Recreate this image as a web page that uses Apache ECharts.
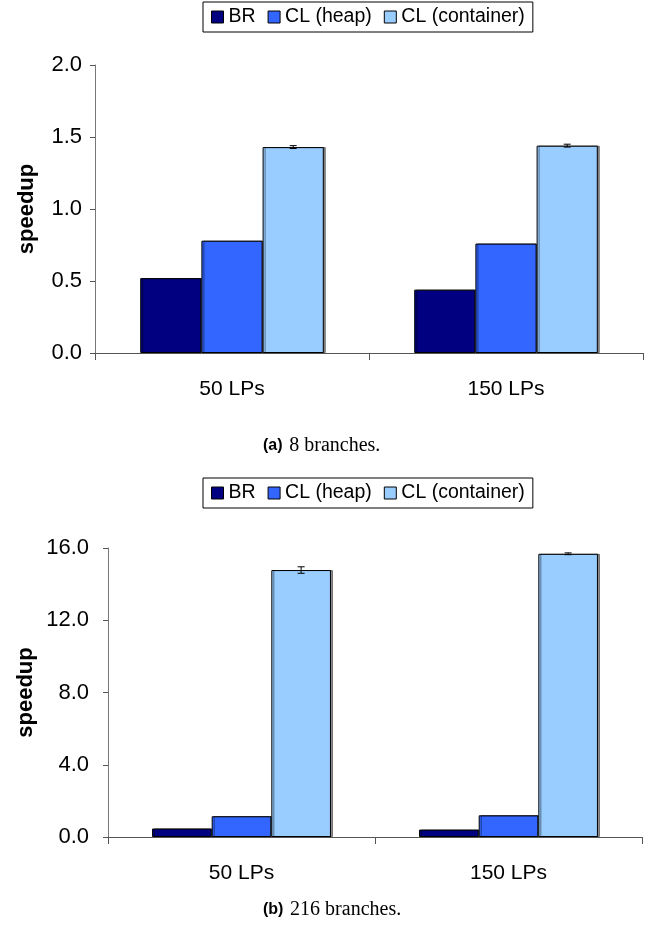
<!DOCTYPE html>
<html>
<head>
<meta charset="utf-8">
<script src="https://cdn.jsdelivr.net/npm/echarts@6/dist/echarts.min.js"></script>
<style>
html,body{margin:0;padding:0;background:#fff;}
#c{width:649px;height:940px;}
</style>
</head>
<body>
<div id="c"></div>
<script>
var categories = ['50 LPs', '150 LPs'];
var seriesNames = ['BR', 'CL (heap)', 'CL (container)'];
var colors = ['#000080', '#3366FF', '#99CCFF'];

// (a) 8 branches
var a_BR = [0.52, 0.44];
var a_heap = [0.78, 0.76];
var a_container = [1.43, 1.44];
var a_containerErr = [0.01, 0.01];
var a_ticks = { min: 0, max: 2, interval: 0.5 };

// (b) 216 branches
var b_BR = [0.47, 0.41];
var b_heap = [1.15, 1.20];
var b_container = [14.78, 15.68];
var b_containerErr = [0.18, 0.05];
var b_ticks = { min: 0, max: 16, interval: 4 };

var captionA = { tag: '(a)', text: '8 branches.' };
var captionB = { tag: '(b)', text: '216 branches.' };

var FONT = '"Liberation Sans", Arial, sans-serif';
var SERIF = '"Liberation Serif", "Times New Roman", serif';

function barSeries(name, data, color, idx) {
  return {
    name: name, type: 'bar', data: data,
    xAxisIndex: idx, yAxisIndex: idx,
    barGap: '0%', barCategoryGap: '33%',
    itemStyle: {
      color: color, borderColor: '#000', borderWidth: 1,
      shadowColor: 'rgba(0,0,0,0.45)', shadowOffsetX: 2, shadowOffsetY: 0, shadowBlur: 0
    },
    emphasis: { disabled: true },
    animation: false
  };
}

function errSeries(values, errs, idx, barIndex) {
  var data = values.map(function (v, i) { return [i, v, errs[i]]; });
  return {
    type: 'custom', xAxisIndex: idx, yAxisIndex: idx,
    data: data, silent: true, animation: false, z: 10,
    renderItem: function (params, api) {
      var ci = api.value(0), v = api.value(1), e = api.value(2);
      var center = api.coord([ci, v]);
      var band = api.size([1, 0])[0];
      var groupW = band * 0.67;
      var barW = groupW / 3;
      var x = center[0] - groupW / 2 + barW * (barIndex + 0.5);
      var hi = api.coord([ci, v + e])[1];
      var lo = api.coord([ci, v - e])[1];
      var cap = 3.5;
      var st = { stroke: '#000', lineWidth: 1, fill: null };
      return {
        type: 'group',
        children: [
          { type: 'line', shape: { x1: x, y1: hi, x2: x, y2: lo }, style: st },
          { type: 'line', shape: { x1: x - cap, y1: hi, x2: x + cap, y2: hi }, style: st },
          { type: 'line', shape: { x1: x - cap, y1: lo, x2: x + cap, y2: lo }, style: st }
        ]
      };
    }
  };
}

function yAxis(idx, t, nameGap, margin, fs) {
  return {
    type: 'value', gridIndex: idx, min: t.min, max: t.max, interval: t.interval,
    name: 'speedup', nameLocation: 'middle', nameRotate: 90, nameGap: nameGap,
    nameMoveOverlap: false,
    nameTextStyle: { fontFamily: FONT, fontWeight: 'bold', fontSize: 22, color: '#000' },
    axisLine: { show: true, lineStyle: { color: '#777', width: 1 } },
    axisTick: { show: true, length: 5, lineStyle: { color: '#555' } },
    axisLabel: {
      fontFamily: FONT, fontSize: fs, color: '#000', margin: margin,
      formatter: function (v) { return v.toFixed(1); }
    },
    splitLine: { show: false }
  };
}

function xAxis(idx, margin) {
  return {
    type: 'category', gridIndex: idx, data: categories,
    axisLine: { lineStyle: { color: '#555', width: 1 } },
    axisTick: { show: true, length: 7, lineStyle: { color: '#555' } },
    axisLabel: { fontFamily: FONT, fontSize: 21, color: '#000', margin: margin }
  };
}

function legend(top) {
  return {
    top: top, left: 203,
    data: seriesNames,
    icon: 'rect',
    itemWidth: 12, itemHeight: 12, itemGap: 12,
    borderColor: '#000', borderWidth: 1, padding: [5, 8],
    textStyle: { fontFamily: FONT, fontSize: 19.5, color: '#000' },
    selectedMode: false,
    itemStyle: { borderColor: '#000', borderWidth: 1 }
  };
}

function caption(c, y) {
  return {
    type: 'text', left: 263, top: y,
    style: {
      text: '{t|' + c.tag + '}  {s|' + c.text + '}',
      rich: {
        t: { fontFamily: FONT, fontWeight: 'bold', fontSize: 16, fill: '#000' },
        s: { fontFamily: SERIF, fontSize: 20, fill: '#000' }
      }
    }
  };
}

var chart = echarts.init(document.getElementById('c'), null, { renderer: 'canvas' });
chart.setOption({
  backgroundColor: '#fff',
  animation: false,
  color: colors,
  legend: [legend(2), legend(478)],
  grid: [
    { left: 95, top: 65, width: 548, height: 288 },
    { left: 108, top: 548, width: 534, height: 289 }
  ],
  xAxis: [xAxis(0, 26), xAxis(1, 26)],
  yAxis: [yAxis(0, a_ticks, 57, 13, 22), yAxis(1, b_ticks, 71, 19, 22)],
  series: [
    barSeries(seriesNames[0], a_BR, colors[0], 0),
    barSeries(seriesNames[1], a_heap, colors[1], 0),
    barSeries(seriesNames[2], a_container, colors[2], 0),
    errSeries(a_container, a_containerErr, 0, 2),
    barSeries(seriesNames[0], b_BR, colors[0], 1),
    barSeries(seriesNames[1], b_heap, colors[1], 1),
    barSeries(seriesNames[2], b_container, colors[2], 1),
    errSeries(b_container, b_containerErr, 1, 2)
  ],
  graphic: [caption(captionA, 436), caption(captionB, 900)]
});
</script>
</body>
</html>
